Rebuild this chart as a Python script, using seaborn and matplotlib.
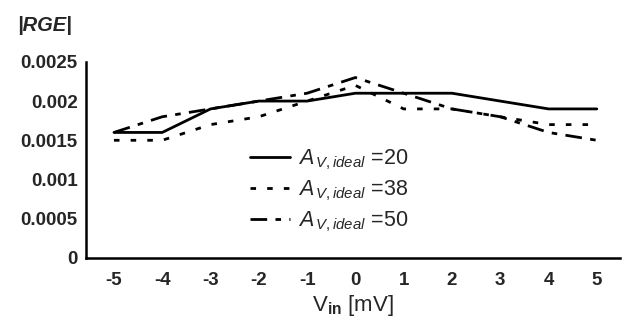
import pandas as pd
import matplotlib
matplotlib.use("Agg")
import matplotlib.pyplot as plt
import seaborn as sns

# values
v_in = [-5, -4, -3, -2, -1, 0, 1, 2, 3, 4, 5]
rge_20 = [0.0016, 0.0016, 0.0019, 0.0020, 0.0020, 0.0021, 0.0021, 0.0021, 0.0020, 0.0019, 0.0019]
rge_38 = [0.0015, 0.0015, 0.0017, 0.0018, 0.0020, 0.0022, 0.0019, 0.0019, 0.0018, 0.0017, 0.0017]
rge_50 = [0.0016, 0.0018, 0.0019, 0.0020, 0.0021, 0.0023, 0.0021, 0.0019, 0.0018, 0.0016, 0.0015]
series_labels = [r"$A_{\,V,ideal}$ =20", r"$A_{\,V,ideal}$ =38", r"$A_{\,V,ideal}$ =50"]
y_ticks = [0, 0.0005, 0.001, 0.0015, 0.002, 0.0025]
y_tick_labels = ["0", "0.0005", "0.001", "0.0015", "0.002", "0.0025"]

sns.set_style("white")
plt.rcParams["font.family"] = ["Liberation Sans", "DejaVu Sans"]
plt.rcParams["mathtext.fontset"] = "custom"
plt.rcParams["mathtext.rm"] = "Liberation Sans"
plt.rcParams["mathtext.it"] = "Liberation Sans:italic"
plt.rcParams["mathtext.bf"] = "Liberation Sans:bold"

df = pd.concat([
    pd.DataFrame({"vin": v_in, "rge": vals, "series": lab})
    for vals, lab in zip([rge_20, rge_38, rge_50], series_labels)
])

fig = plt.figure(figsize=(6.32, 3.29), dpi=100)
ax = fig.add_axes([0.136, 0.216, 0.845, 0.596])

dashes = {series_labels[0]: "", series_labels[1]: (2, 4), series_labels[2]: (6, 3, 2, 3)}
sns.lineplot(data=df, x="vin", y="rge", hue="series", style="series",
             palette=["black"] * 3, dashes=dashes, linewidth=2.0, ax=ax)

ax.set_xlim(-5.58, 5.48)
ax.set_ylim(0, 0.0025)
ax.set_xticks(v_in)
ax.set_xticklabels([str(v) for v in v_in], fontsize=13.5, fontweight="bold")
ax.set_yticks(y_ticks)
ax.set_yticklabels(y_tick_labels, fontsize=13.5, fontweight="bold")
ax.tick_params(axis="both", length=0)
ax.tick_params(axis="y", pad=6)
ax.tick_params(axis="x", pad=10)

for side in ["top", "right"]:
    ax.spines[side].set_visible(False)
for side in ["left", "bottom"]:
    ax.spines[side].set_linewidth(1.8)
    ax.spines[side].set_color("black")

ax.set_ylabel("")
ax.set_xlabel(r"V$_{\mathbf{in}}$ [mV]", fontsize=16, labelpad=3)

leg = ax.legend(loc="upper left", bbox_to_anchor=(0.27, 0.66), frameon=False,
                fontsize=15.5, handlelength=1.9, handletextpad=0.35, labelspacing=0.3)
for line in leg.get_lines():
    line.set_linewidth(2.0)

fig.text(0.027, 0.905, "|RGE|", fontsize=14.5, fontweight="bold", fontstyle="italic")

fig.savefig("out.png", dpi=100)
